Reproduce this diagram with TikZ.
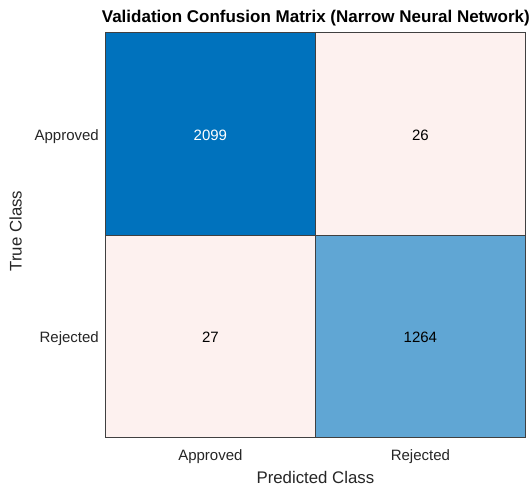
\documentclass[tikz,border=0pt]{standalone}
\usepackage{fontspec}
\setmainfont{Liberation Sans}
\usetikzlibrary{calc}
\definecolor{cmdark}{RGB}{0,114,189}
\definecolor{cmlight}{RGB}{96,166,212}
\definecolor{cmpale}{RGB}{253,241,239}
\definecolor{cmedge}{RGB}{64,64,64}
\definecolor{cmtext}{RGB}{38,38,38}
\tikzset{
  cell/.style={draw=cmedge,line width=0.8pt,minimum width=210pt,minimum height=202.5pt,inner sep=0pt,anchor=north west},
  count/.style={font=\fontsize{15}{17}\selectfont,anchor=base,inner sep=0pt},
  ticklab/.style={font=\fontsize{15}{17}\selectfont,text=cmtext,inner sep=0pt},
  axlab/.style={font=\fontsize{16.8}{19}\selectfont,text=cmtext,inner sep=0pt,anchor=base}
}
\begin{document}
\begin{tikzpicture}[x=1pt,y=-1pt]
\useasboundingbox[fill=white](0,0) rectangle (529,488);
\pgfmathsetmacro{\cw}{210}
\pgfmathsetmacro{\ch}{202.5}
%cells
\node[cell,fill=cmdark] (aa) at (105,32) {};
\node[cell,fill=cmpale] (ar) at (105+\cw,32) {};
\node[cell,fill=cmpale] (ra) at (105,32+\ch) {};
\node[cell,fill=cmlight] (rr) at (105+\cw,32+\ch) {};
%counts
\node[count,text=white] at ([yshift=-6.5pt]aa.center) {2099};
\node[count] at ([yshift=-6.5pt]ar.center) {26};
\node[count] at ([yshift=-6.5pt]ra.center) {27};
\node[count] at ([yshift=-6.5pt]rr.center) {1264};
%ticks
\node[ticklab,anchor=base east] (ya) at ([xshift=-6pt,yshift=-6.8pt]aa.west) {Approved};
\node[ticklab,anchor=base east] (yr) at ([xshift=-6pt,yshift=-6.5pt]ra.west) {Rejected};
\node[ticklab,anchor=base] (xa) at ([yshift=-23pt]ra.south) {Approved};
\node[ticklab,anchor=base] (xr) at ([yshift=-23pt]rr.south) {Rejected};
%labels
\node[axlab] (xl) at ([yshift=-22.5pt]$(xa.base)!0.5!(xr.base)$) {Predicted Class};
\node[axlab,rotate=90] (yl) at (21.5,231) {True Class};
\node[font=\bfseries\fontsize{17}{19}\selectfont,anchor=base,inner sep=0pt] (tt) at ([yshift=9.5pt]$(aa.north east)$) {Validation Confusion Matrix (Narrow Neural Network)};
\end{tikzpicture}
\end{document}
